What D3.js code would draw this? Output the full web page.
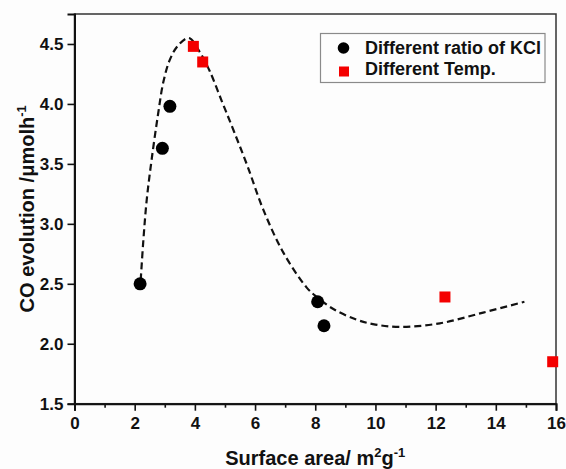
<!DOCTYPE html>
<html>
<head>
<meta charset="utf-8">
<script src="https://cdn.jsdelivr.net/npm/d3@7"></script>
<style>
  html, body { margin: 0; padding: 0; background: #fdfdfd; }
  svg { display: block; font-family: Arial, "Liberation Sans", sans-serif; }
</style>
</head>
<body>
<svg id="chart" width="566" height="469"></svg>
<script>
// Samples prepared with different KCl ratios
const kclX = [2.18, 2.92, 3.17, 8.08, 8.29];
const kclY = [2.50, 3.63, 3.98, 2.35, 2.15];

// Samples prepared at different temperatures
const tempX = [3.95, 4.26, 12.31, 15.89];
const tempY = [4.48, 4.35, 2.39, 1.85];

// Guide-to-the-eye trend line
const fitX = [2.20, 2.29, 2.40, 2.56, 2.78, 2.95, 3.17, 3.45, 3.80, 4.17, 4.50, 4.90, 5.30, 5.75, 6.27, 6.94, 7.71, 8.05, 8.60, 9.38, 10.00, 10.81, 12.14, 13.58, 14.95];
const fitY = [2.53, 2.87, 3.20, 3.53, 3.92, 4.18, 4.37, 4.49, 4.55, 4.43, 4.27, 4.02, 3.77, 3.48, 3.12, 2.76, 2.47, 2.39, 2.29, 2.20, 2.16, 2.14, 2.17, 2.26, 2.35];

// Axis ticks
const xTicks = [0, 2, 4, 6, 8, 10, 12, 14, 16];
const xMinorTicks = [1, 3, 5, 7, 9, 11, 13, 15];
const yTicks = [1.5, 2.0, 2.5, 3.0, 3.5, 4.0, 4.5];

const legendLabels = ["Different ratio of KCl", "Different Temp."];

const svg = d3.select("#chart");
const plotLeft = 74.5, plotRight = 556, plotTop = 14, plotBottom = 403.7;

const x = d3.scaleLinear().domain([0, 16]).range([plotLeft, plotRight]);
const y = d3.scaleLinear().domain([1.5, 4.75]).range([plotBottom, plotTop]);

// Frame (top and right sides)
svg.append("rect")
  .attr("x", plotLeft).attr("y", plotTop)
  .attr("width", plotRight - plotLeft).attr("height", plotBottom - plotTop)
  .attr("fill", "none").attr("stroke", "#333").attr("stroke-width", 1.5);

// Bottom axis with major and minor ticks
svg.append("g").attr("transform", `translate(0,${plotBottom})`)
  .call(d3.axisBottom(x).tickValues(xTicks).tickFormat(d3.format("d")).tickSize(7).tickPadding(6));
svg.append("g").attr("transform", `translate(0,${plotBottom})`)
  .call(d3.axisBottom(x).tickValues(xMinorTicks).tickFormat("").tickSize(4))
  .call(g => g.select(".domain").remove());

// Left axis
svg.append("g").attr("transform", `translate(${plotLeft},0)`)
  .call(d3.axisLeft(y).tickValues(yTicks).tickFormat(d3.format(".1f")).tickSize(7).tickPadding(4));

svg.selectAll("g").attr("font-family", null).attr("font-size", null);
svg.selectAll(".domain").attr("stroke", "#111").attr("stroke-width", 2);
svg.selectAll(".tick line").attr("stroke", "#111").attr("stroke-width", 1.6);
svg.selectAll(".tick text")
  .attr("fill", "#111")
  .style("font-family", "Arial, 'Liberation Sans', sans-serif")
  .style("font-size", "17px")
  .style("font-weight", "700");

// Dashed trend line
const fitPts = fitX.map((v, i) => [v, fitY[i]]);
svg.append("path")
  .datum(fitPts)
  .attr("fill", "none")
  .attr("stroke", "#111")
  .attr("stroke-width", 2.2)
  .attr("stroke-dasharray", "7,4")
  .attr("d", d3.line().x(d => x(d[0])).y(d => y(d[1])).curve(d3.curveCatmullRom.alpha(0.5)));

// Black circles: KCl ratio series
svg.append("g").selectAll("circle")
  .data(kclX.map((v, i) => [v, kclY[i]]))
  .join("circle")
  .attr("cx", d => x(d[0])).attr("cy", d => y(d[1]))
  .attr("r", 6.5).attr("fill", "#000");

// Red squares: temperature series
const sq = 11;
svg.append("g").selectAll("rect")
  .data(tempX.map((v, i) => [v, tempY[i]]))
  .join("rect")
  .attr("x", d => x(d[0]) - sq / 2).attr("y", d => y(d[1]) - sq / 2)
  .attr("width", sq).attr("height", sq).attr("fill", "#f40000");

// Legend
const lg = svg.append("g");
lg.append("rect")
  .attr("x", 320.5).attr("y", 33.5).attr("width", 224.5).attr("height", 49)
  .attr("fill", "#fdfdfd").attr("stroke", "#8a8a8a").attr("stroke-width", 1.2);
lg.append("circle").attr("cx", 343.5).attr("cy", 48).attr("r", 5.8).attr("fill", "#000");
lg.append("rect").attr("x", 339).attr("y", 66.5).attr("width", 10).attr("height", 10).attr("fill", "#f40000");
lg.selectAll("text")
  .data(legendLabels)
  .join("text")
  .attr("x", 365).attr("y", (d, i) => 54 + i * 21)
  .attr("fill", "#111")
  .style("font-size", "18px").style("font-weight", "bold")
  .text(d => d);

// X axis title
const xt = svg.append("text")
  .attr("x", (plotLeft + plotRight) / 2).attr("y", 465)
  .attr("text-anchor", "middle")
  .attr("fill", "#111")
  .style("font-size", "20px").style("font-weight", "bold");
xt.append("tspan").text("Surface area/ m");
xt.append("tspan").attr("dy", -8).style("font-size", "13px").text("2");
xt.append("tspan").attr("dy", 8).text("g");
xt.append("tspan").attr("dy", -8).style("font-size", "13px").text("-1");

// Y axis title
const yt = svg.append("text")
  .attr("transform", `translate(34,${(plotTop + plotBottom) / 2}) rotate(-90)`)
  .attr("text-anchor", "middle")
  .attr("fill", "#111")
  .style("font-size", "20px").style("font-weight", "bold");
yt.append("tspan").text("CO evolution /\u03bcmolh");
yt.append("tspan").attr("dy", -8).style("font-size", "13px").text("-1");
</script>
</body>
</html>
